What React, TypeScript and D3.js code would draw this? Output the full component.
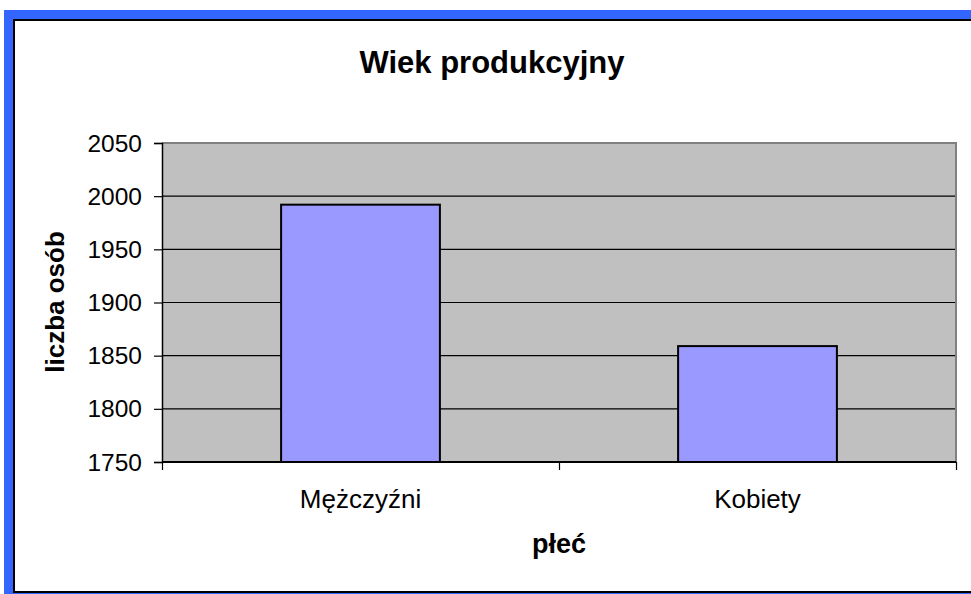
import { useEffect, useRef } from "react"
import { select, scaleLinear, scaleBand, axisLeft, axisBottom, range } from "d3"

const title = "Wiek produkcyjny"
const categories = ["Mężczyźni", "Kobiety"]
const values = [1992, 1859]
const yTicks = [1750, 1800, 1850, 1900, 1950, 2000, 2050]
const xTitle = "płeć"
const yTitle = "liczba osób"

const W = 971
const H = 594
const plot = { left: 162, top: 143, right: 956, bottom: 462 }
const font = "Arial, 'Liberation Sans', sans-serif"

const App = () => {
    const svgRef = useRef<SVGSVGElement>(null)

    useEffect(() => {
        const svgEl = select(svgRef.current)
        svgEl.selectAll("*").remove()

        // outer frame: blue band + white chart area with black border
        svgEl.append("rect")
            .attr("x", 4).attr("y", 10)
            .attr("width", W).attr("height", H)
            .attr("fill", "#3366FF")
        svgEl.append("rect")
            .attr("x", 14).attr("y", 20)
            .attr("width", W + 20).attr("height", 572)
            .attr("fill", "#fff")
            .attr("stroke", "#000")
            .attr("stroke-width", 2)

        const yScale = scaleLinear()
            .domain([1750, 2050])
            .range([plot.bottom, plot.top])
        const xScale = scaleBand<string>()
            .domain(categories)
            .range([plot.left, plot.right])
            .paddingInner(0.6)
            .paddingOuter(0.3)

        // plot background
        svgEl.append("rect")
            .attr("x", plot.left).attr("y", plot.top)
            .attr("width", plot.right - plot.left)
            .attr("height", plot.bottom - plot.top)
            .attr("fill", "#C0C0C0")

        // grid lines
        svgEl.append("g")
            .selectAll("line")
            .data(yTicks.slice(1, -1))
            .enter()
            .append("line")
            .attr("x1", plot.left).attr("x2", plot.right)
            .attr("y1", (d) => yScale(d)).attr("y2", (d) => yScale(d))
            .attr("stroke", "#000")
            .attr("stroke-width", 1.2)

        // plot border top/right in gray
        svgEl.append("path")
            .attr("d", `M${plot.left},${plot.top}H${plot.right}V${plot.bottom}`)
            .attr("fill", "none")
            .attr("stroke", "#808080")
            .attr("stroke-width", 2)

        // bars
        svgEl.append("g")
            .selectAll("rect")
            .data(values)
            .enter()
            .append("rect")
            .attr("x", (_, i) => xScale(categories[i]) as number)
            .attr("y", (d) => yScale(d))
            .attr("width", xScale.bandwidth())
            .attr("height", (d) => plot.bottom - yScale(d))
            .attr("fill", "#9999FF")
            .attr("stroke", "#000")
            .attr("stroke-width", 2)

        // y axis
        const yAxis = axisLeft(yScale)
            .tickValues(yTicks)
            .tickSize(8)
            .tickPadding(12)
            .tickFormat((v) => `${v}`)
        const yAxisGroup = svgEl.append("g")
            .attr("transform", `translate(${plot.left}, 0)`)
            .call(yAxis)
        yAxisGroup.select(".domain").attr("stroke", "#000").attr("stroke-width", 1.5)
        yAxisGroup.selectAll("line").attr("stroke", "#000").attr("stroke-width", 1.2)
        yAxisGroup.selectAll("text")
            .attr("font-family", font)
            .attr("font-size", 24.5)
            .attr("fill", "#000")
            .attr("dy", "0.33em")

        // x axis: ticks on category boundaries
        const xLin = scaleLinear().domain([0, categories.length]).range([plot.left, plot.right])
        const xAxis = axisBottom(xLin)
            .tickValues(range(categories.length + 1))
            .tickSize(8)
            .tickFormat(() => "")
        const xAxisGroup = svgEl.append("g")
            .attr("transform", `translate(0, ${plot.bottom})`)
            .call(xAxis)
        xAxisGroup.select(".domain").attr("stroke", "#000").attr("stroke-width", 2).attr("d", `M${plot.left},0H${plot.right}`)
        xAxisGroup.selectAll("line").attr("stroke", "#000").attr("stroke-width", 1.2)

        // category labels
        svgEl.append("g")
            .selectAll("text")
            .data(categories)
            .enter()
            .append("text")
            .attr("x", (d) => (xScale(d) as number) + xScale.bandwidth() / 2)
            .attr("y", 508)
            .attr("text-anchor", "middle")
            .attr("font-family", font)
            .attr("font-size", 26)
            .text((d) => d)

        // titles
        svgEl.append("text")
            .attr("x", 492).attr("y", 73)
            .attr("text-anchor", "middle")
            .attr("font-family", font)
            .attr("font-size", 31)
            .attr("font-weight", "bold")
            .text(title)
        svgEl.append("text")
            .attr("x", 559).attr("y", 553)
            .attr("text-anchor", "middle")
            .attr("font-family", font)
            .attr("font-size", 27)
            .attr("font-weight", "bold")
            .text(xTitle)
        svgEl.append("text")
            .attr("transform", `translate(64, 302) rotate(-90)`)
            .attr("text-anchor", "middle")
            .attr("font-family", font)
            .attr("font-size", 26)
            .attr("font-weight", "bold")
            .text(yTitle)
    }, [])

    return (
        <svg
            ref={svgRef}
            width={W}
            height={H}
            style={{ position: "absolute", left: 0, top: 0 }}
        />
    )
}

export default App
